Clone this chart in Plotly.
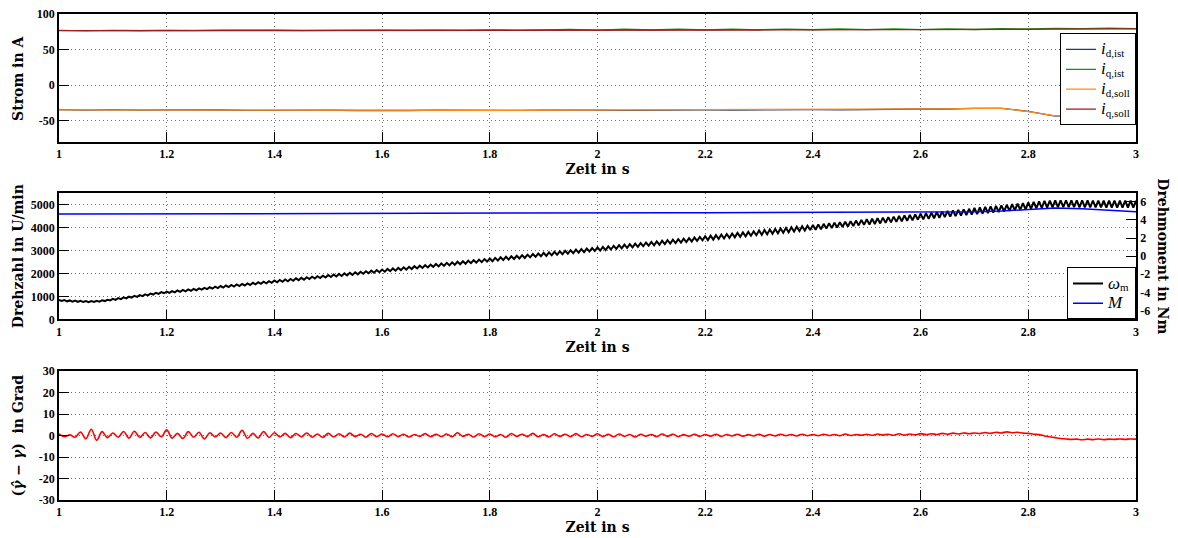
import numpy as np
import plotly.graph_objects as go

# ---------------- data ----------------
t_coarse = np.round(1.0 + 0.05 * np.arange(41), 3)
t_fine = np.round(1.0 + 0.01 * np.arange(201), 3)
t_dense = np.round(1.0 + 0.005 * np.arange(401), 3)

id_ist = [-34.6, -35.4, -34.8, -35.5, -35.0, -35.6, -35.2, -35.7, -35.3, -35.8,
          -35.3, -35.9, -35.4, -35.9, -35.5, -35.9, -35.4, -35.8, -35.3, -35.8,
          -35.3, -35.7, -35.2, -35.6, -35.0, -35.4, -34.8, -35.2, -34.6, -34.9,
          -34.3, -34.6, -33.8, -33.8, -32.8, -33.0, -37.0, -43.8, -42.4, -39.3, -36.8]
iq_ist = [76.8, 76.3, 76.9, 76.4, 77.0, 76.5, 77.1, 76.6, 77.1, 76.7,
          77.2, 76.8, 77.3, 76.8, 77.4, 76.9, 77.5, 77.0, 77.6, 78.4,
          77.3, 78.6, 77.5, 78.7, 77.6, 78.8, 77.7, 78.8, 77.8, 78.9,
          77.9, 79.0, 78.0, 79.1, 78.2, 79.2, 79.0, 79.8, 79.5, 80.1, 79.4]
id_soll = [-35.0, -35.1, -35.0, -35.2, -35.3, -35.2, -35.4, -35.3, -35.5, -35.4,
           -35.5, -35.6, -35.5, -35.6, -35.7, -35.6, -35.7, -35.6, -35.5, -35.6,
           -35.5, -35.4, -35.5, -35.3, -35.2, -35.1, -35.0, -34.9, -34.8, -34.6,
           -34.5, -34.3, -34.0, -33.5, -33.0, -32.6, -37.5, -43.5, -42.0, -39.0, -36.5]
iq_soll = [76.5, 76.5, 76.6, 76.6, 76.7, 76.7, 76.8, 76.8, 76.8, 76.9,
           76.9, 77.0, 77.0, 77.0, 77.1, 77.1, 77.2, 77.2, 77.2, 77.3,
           77.3, 77.3, 77.4, 77.4, 77.5, 77.5, 77.5, 77.6, 77.6, 77.7,
           77.7, 77.8, 77.8, 77.9, 78.0, 78.1, 78.4, 78.7, 78.9, 79.0, 79.0]

torque_M = [4.65, 4.66, 4.67, 4.68, 4.69, 4.70, 4.70, 4.71, 4.72, 4.72,
            4.73, 4.74, 4.74, 4.75, 4.75, 4.76, 4.76, 4.77, 4.77, 4.78,
            4.78, 4.79, 4.79, 4.80, 4.80, 4.81, 4.81, 4.82, 4.82, 4.83,
            4.84, 4.85, 4.86, 4.88, 4.92, 5.00, 5.15, 5.32, 5.25, 5.08, 4.92]

omega_m = [
    850, 805, 840, 790, 828, 778, 818, 768, 808, 758, 800, 754, 802, 762, 815, 778, 832, 800, 858, 826,
    895, 850, 926, 882, 958, 914, 990, 947, 1024, 981, 1058, 1015, 1092, 1049, 1126, 1083, 1160, 1115, 1190, 1140,
    1212, 1154, 1235, 1177, 1259, 1201, 1282, 1224, 1306, 1248, 1329, 1271, 1353, 1295, 1376, 1318, 1400, 1342, 1423, 1365,
    1452, 1384, 1475, 1407, 1499, 1431, 1522, 1454, 1546, 1478, 1569, 1501, 1593, 1525, 1616, 1548, 1640, 1572, 1663, 1595,
    1692, 1614, 1715, 1637, 1739, 1661, 1762, 1684, 1786, 1708, 1809, 1731, 1833, 1755, 1856, 1778, 1880, 1802, 1903, 1825,
    1932, 1844, 1955, 1867, 1979, 1891, 2002, 1914, 2026, 1938, 2049, 1961, 2073, 1985, 2096, 2008, 2120, 2032, 2143, 2055,
    2172, 2074, 2195, 2097, 2219, 2121, 2242, 2144, 2266, 2168, 2289, 2191, 2313, 2215, 2336, 2238, 2360, 2262, 2383, 2285,
    2412, 2304, 2435, 2327, 2459, 2351, 2482, 2374, 2506, 2398, 2529, 2421, 2553, 2445, 2576, 2468, 2600, 2492, 2623, 2515,
    2652, 2534, 2675, 2557, 2699, 2581, 2722, 2604, 2746, 2628, 2769, 2651, 2793, 2675, 2816, 2698, 2840, 2722, 2863, 2745,
    2892, 2764, 2915, 2787, 2939, 2811, 2962, 2834, 2986, 2858, 3009, 2881, 3033, 2905, 3056, 2928, 3080, 2952, 3103, 2975,
    3132, 2994, 3155, 3017, 3179, 3041, 3202, 3064, 3226, 3088, 3249, 3111, 3273, 3135, 3296, 3158, 3320, 3182, 3343, 3205,
    3372, 3224, 3395, 3247, 3419, 3271, 3442, 3294, 3466, 3318, 3489, 3341, 3513, 3365, 3536, 3388, 3560, 3412, 3583, 3435,
    3617, 3449, 3640, 3472, 3664, 3496, 3687, 3519, 3711, 3543, 3734, 3566, 3758, 3590, 3781, 3613, 3805, 3637, 3828, 3660,
    3862, 3674, 3885, 3697, 3909, 3721, 3932, 3744, 3956, 3768, 3979, 3791, 4003, 3815, 4026, 3838, 4050, 3862, 4073, 3885,
    4107, 3899, 4130, 3922, 4154, 3946, 4177, 3969, 4201, 3993, 4224, 4016, 4248, 4040, 4271, 4063, 4295, 4087, 4318, 4110,
    4352, 4124, 4375, 4147, 4399, 4171, 4422, 4194, 4446, 4218, 4469, 4241, 4493, 4265, 4516, 4288, 4540, 4312, 4563, 4335,
    4597, 4349, 4620, 4372, 4644, 4396, 4667, 4419, 4691, 4443, 4714, 4466, 4738, 4490, 4761, 4513, 4785, 4537, 4808, 4560,
    4842, 4574, 4865, 4597, 4889, 4621, 4912, 4644, 4936, 4668, 4959, 4691, 4983, 4715, 5006, 4738, 5030, 4762, 5053, 4785,
    5087, 4800, 5112, 4823, 5133, 4842, 5150, 4857, 5163, 4868, 5172, 4875, 5177, 4878, 5178, 4878, 5177, 4876, 5175, 4874,
    5172, 4871, 5170, 4869, 5168, 4867, 5166, 4865, 5164, 4863, 5162, 4861, 5160, 4860, 5160, 4860, 5160, 4860, 5160, 4860,
    5160]

angle_err = [
    0.8, -0.6, 0.3, -0.8, 1.6, -1.5, 2.9, -2.2, 1.8, -1.0,
    1.2, -0.8, 1.9, -1.2, 2.0, -0.9, 1.4, -1.1, 1.6, -0.6,
    2.6, -1.2, 1.0, -1.4, 1.8, -0.8, 1.5, -1.6, 1.3, -0.7,
    1.2, -1.0, 1.4, -0.8, 2.4, -1.3, 1.0, -1.1, 1.9, -0.9,
    1.3, -0.7, 1.0, -1.0, 0.9, -0.6, 1.2, -0.8, 0.7, -0.9,
    1.0, -0.6, 0.8, -0.7, 1.1, -0.5, 0.6, -0.8, 0.9, -0.5,
    0.7, -0.6, 0.8, -0.5, 0.6, -0.7, 0.5, -0.4, 0.9, -0.6,
    0.6, -0.5, 0.7, -0.6, 1.3, -0.4, 0.6, -0.7, 0.8, -0.5,
    0.7, -0.6, 0.5, -0.8, 0.9, -0.4, 0.6, -0.5, 1.0, -0.6,
    0.5, -0.7, 0.8, -0.4, 0.6, -0.5, 0.9, -0.6, 0.5, -0.4,
    0.8, -0.5, 0.6, -0.6, 0.7, -0.4, 0.5, -0.7, 0.6, -0.3,
    0.5, -0.5, 0.7, -0.4, 0.6, -0.5, 0.4, -0.3, 0.6, -0.4,
    0.5, -0.3, 0.6, -0.4, 0.5, -0.2, 0.6, -0.3, 0.4, -0.2,
    0.6, -0.3, 0.5, -0.2, 0.6, -0.1, 0.5, -0.2, 0.6, -0.1,
    0.5, -0.1, 0.6, 0.0, 0.5, -0.1, 0.7, 0.0, 0.5, 0.1,
    0.6, 0.1, 0.7, 0.2, 0.6, 0.1, 0.8, 0.2, 0.7, 0.3,
    0.9, 0.4, 0.8, 0.5, 1.0, 0.6, 1.1, 0.7, 1.2, 0.8,
    1.2, 0.9, 1.4, 1.0, 1.5, 1.2, 1.7, 1.3, 1.5, 1.1,
    1.0, 0.6, 0.4, -0.2, -0.6, -1.0, -1.4, -1.6, -1.8, -1.7,
    -2.0, -1.7, -1.9, -1.6, -1.9, -1.7, -1.8, -1.6, -1.8, -1.6,
    -1.7]

x_ticks = [1, 1.2, 1.4, 1.6, 1.8, 2, 2.2, 2.4, 2.6, 2.8, 3]
y1_ticks = [-50, 0, 50, 100]
y2_ticks = [0, 1000, 2000, 3000, 4000, 5000]
y3_ticks = [-6, -4, -2, 0, 2, 4, 6]
y4_ticks = [-30, -20, -10, 0, 10, 20, 30]

# ---------------- styling ----------------
TICKFONT = dict(family="Liberation Serif", size=12, color="black", weight="bold")
TITLEFONT = dict(family="DejaVu Serif", size=14, color="black", weight="bold")
LEGFONT = dict(family="Liberation Serif", size=13, color="black")
GRIDDASH = "1px,3px"


def lab(v):
    return [("-" + str(abs(x))) if x < 0 else str(x) for x in v]


def leg(main, sub=None):
    s = "<span style='font-size:17px;color:black'><i>" + main + "</i></span>"
    if sub:
        s += "<sub><span style='font-size:11px;color:black'>" + sub + "</span></sub>"
    return s


fig = go.Figure()

# panel 1
fig.add_trace(go.Scatter(x=t_coarse, y=id_ist, mode="lines", line=dict(color="#1f3b6e", width=1.3),
                         name=leg("i", "d,ist"), xaxis="x", yaxis="y", legend="legend"))
fig.add_trace(go.Scatter(x=t_coarse, y=iq_ist, mode="lines", line=dict(color="#1a8c1a", width=1.3),
                         name=leg("i", "q,ist"), xaxis="x", yaxis="y", legend="legend"))
fig.add_trace(go.Scatter(x=t_coarse, y=id_soll, mode="lines", line=dict(color="#ff8c1a", width=1.3),
                         name=leg("i", "d,soll"), xaxis="x", yaxis="y", legend="legend"))
fig.add_trace(go.Scatter(x=t_coarse, y=iq_soll, mode="lines", line=dict(color="#a31a1a", width=1.3),
                         name=leg("i", "q,soll"), xaxis="x", yaxis="y", legend="legend"))

# panel 2
fig.add_trace(go.Scatter(x=t_dense, y=omega_m, mode="lines", line=dict(color="black", width=2),
                         name=leg("ω", "m"), xaxis="x2", yaxis="y2", legend="legend2"))
fig.add_trace(go.Scatter(x=t_coarse, y=torque_M, mode="lines", line=dict(color="#0000ff", width=1.5),
                         name=leg("M"), xaxis="x2", yaxis="y3", legend="legend2"))

# panel 3
fig.add_trace(go.Scatter(x=t_fine, y=angle_err, mode="lines",
                         line=dict(color="#ff0000", width=1.6, shape="spline", smoothing=1.0),
                         showlegend=False, xaxis="x3", yaxis="y4"))

D1 = [0.737, 1.0]
D2 = [0.3714, 0.632]
D3 = [0.0, 0.2654]

xcommon = dict(range=[1, 3], tickvals=x_ticks, ticks="inside", ticklen=10, tickcolor="black",
               tickwidth=1, showline=True, linecolor="black", linewidth=1.5, mirror=True,
               showgrid=True, gridcolor="#707070", griddash=GRIDDASH, gridwidth=1,
               zeroline=False, tickfont=TICKFONT, automargin=False, ticklabeloverflow="allow",
               title=dict(text="Zeit in s", font=TITLEFONT, standoff=3))
ycommon = dict(ticks="inside", ticklen=10, tickcolor="black", tickwidth=1, showline=True,
               linecolor="black", linewidth=1.5, zeroline=False, tickfont=TICKFONT,
               showgrid=True, gridcolor="#707070", griddash=GRIDDASH, gridwidth=1,
               automargin=False, ticklabeloverflow="allow")

ytitle_x = -0.0381
annots = [
    dict(text="Strom in A", textangle=-90, x=ytitle_x, y=sum(D1) / 2),
    dict(text="Drehzahl in U/min", textangle=-90, x=ytitle_x, y=sum(D2) / 2),
    dict(text="(<i>γ̂</i> − <i>γ</i>)  in Grad", textangle=-90, x=ytitle_x, y=sum(D3) / 2),
    dict(text="Drehmoment in Nm", textangle=90, x=1.025, y=sum(D2) / 2),
]
for a in annots:
    a.update(xref="paper", yref="paper", xanchor="center", yanchor="middle",
             showarrow=False, font=TITLEFONT)

# page has an 8 px body margin: figure is sized/offset so the plot areas land on the reference pixels
fig.update_layout(
    width=1170, height=530,
    margin=dict(l=51, r=42, t=6, b=38),
    paper_bgcolor="white", plot_bgcolor="white",
    xaxis=dict(xcommon, domain=[0, 1], anchor="y"),
    xaxis2=dict(xcommon, domain=[0, 1], anchor="y2"),
    xaxis3=dict(xcommon, domain=[0, 1], anchor="y4"),
    yaxis=dict(ycommon, domain=D1, anchor="x", range=[-80, 100], mirror=True,
               tickvals=y1_ticks, ticktext=lab(y1_ticks)),
    yaxis2=dict(ycommon, domain=D2, anchor="x2", range=[0, 5500], mirror=True,
                tickvals=y2_ticks, ticktext=lab(y2_ticks)),
    yaxis3=dict(ycommon, overlaying="y2", side="right", anchor="x2", range=[-7, 7],
                showgrid=False, tickvals=y3_ticks, ticktext=lab(y3_ticks)),
    yaxis4=dict(ycommon, domain=D3, anchor="x3", range=[-30, 30], mirror=True,
                tickvals=y4_ticks, ticktext=lab(y4_ticks)),
    legend=dict(x=1, y=0.960, xanchor="right", yanchor="top", bgcolor="white",
                bordercolor="black", borderwidth=1, font=LEGFONT, itemwidth=30,
                tracegroupgap=0),
    legend2=dict(x=1, y=D2[0], xanchor="right", yanchor="bottom", bgcolor="white",
                 bordercolor="black", borderwidth=1, font=LEGFONT, itemwidth=30,
                 tracegroupgap=0),
    annotations=annots,
)

fig.write_html("out.html")
